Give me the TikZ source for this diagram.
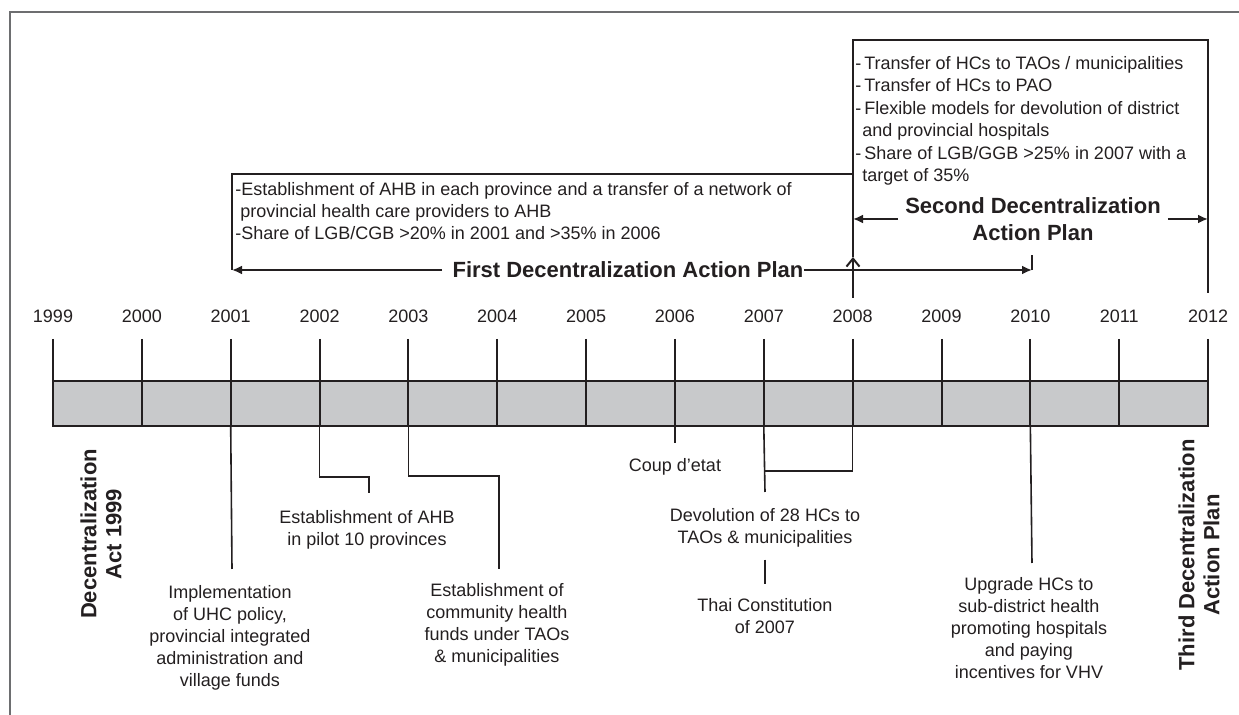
\documentclass[tikz,border=0pt]{standalone}
\usepackage{fontspec}
\setmainfont{Liberation Sans}
\usetikzlibrary{arrows.meta,calc,positioning}
\definecolor{ink}{HTML}{231F20}
\definecolor{bargray}{HTML}{C8C9CB}
\definecolor{framegray}{HTML}{6D6E70}

\begin{document}
\begin{tikzpicture}[
  x=0.5pt, y=-0.5pt,
  > = {Latex[length=5pt,width=4.5pt]},
  every node/.style={text=ink},
  yearlbl/.style={font=\fontsize{9}{11}\selectfont, inner sep=0},
  event/.style={font=\fontsize{9}{11}\selectfont, align=center, inner sep=0, anchor=north},
  note/.style={font=\fontsize{9}{11}\selectfont, align=left, inner sep=0, anchor=north west},
  plan/.style={font=\bfseries\fontsize{11}{13.5}\selectfont, align=center},
  sideplan/.style={font=\bfseries\fontsize{11}{12.5}\selectfont, align=center, rotate=90, inner sep=0},
  link/.style={draw=ink, line width=1pt},
  lead/.style={draw=ink, line width=0.8pt}
  ]
  \useasboundingbox (0,0) rectangle (1239,715);
  \draw[framegray, line width=0.75pt] (10,715) -- (10,12) -- (1239,12);

  % time bar
  \draw[link, fill=bargray] (53,381) rectangle (1208,426);
  \foreach \yr [count=\i from 0] in {1999,...,2012} {
    \coordinate (top\yr) at ({53+88.85*\i},339);
    \coordinate (bot\yr) at ({53+88.85*\i},426);
    \node[yearlbl] (y\yr) at ({53+88.85*\i},316) {\yr};
    \draw[link] (top\yr) -- (bot\yr);
  }

  % first plan
  \coordinate (fpL) at (232,270);
  \coordinate (fpR) at (1032,270);
  \coordinate (fpT) at (232,174);
  \coordinate (fpE) at (853,174);
  \node[plan, inner xsep=0] (fp) at (628,270) {First Decentralization Action Plan};
  \node[note] (fpnote) at (235,182) {-Establishment of AHB in each province and a transfer of a network of\\\hspace{2.5pt}provincial health care providers to AHB\\-Share of LGB/CGB >20\% in 2001 and >35\% in 2006};
  \draw[link, ->] ([xshift=-5pt]fp.west) -- (fpL);
  \draw[link, ->] (fp.east) -- (fpR);
  \draw[link] (fpL) -- (fpT) -- (fpE);
  \draw[link] (fpR) -- (1032,255);

  % second plan
  \coordinate (sbB) at (853,298);
  \coordinate (sbA) at (853,257);
  \coordinate (sbTL) at (853,40);
  \coordinate (sbTR) at (1208,40);
  \coordinate (sbR) at (1208,293);
  \draw[link, -{Straight Barb[length=4pt,width=6.5pt]}] (sbB) -- (sbA);
  \draw[link] (sbA) -- (sbTL) -- (sbTR) -- (sbR);
  \node[note, font=\fontsize{9}{11.2}\selectfont] (spnote) at (855,56) {-\,Transfer of HCs to TAOs / municipalities\\-\,Transfer of HCs to PAO\\-\,Flexible models for devolution of district\\\hspace{3.5pt}and provincial hospitals\\-\,Share of LGB/GGB >25\% in 2007 with a\\\hspace{3.5pt}target of 35\%};
  \node[plan] (sp) at (1033,219) {Second Decentralization\\Action Plan};
  \draw[link, ->] (sp.west) -- (sbTL |- sp.west);
  \draw[link, ->] (sp.east) -- (sbR |- sp.east);

  % rotated labels
  \node[sideplan] (act) at (101,534) {Decentralization\\Act 1999};
  \node[sideplan] (third) at (1199,555) {Third Decentralization\\Action Plan};

  % events below the bar
  \coordinate (e2001) at (232,569);
  \node[event] (impl) at (230,585) {Implementation\\of UHC policy,\\provincial integrated\\administration and\\village funds};
  \draw[lead] (bot2001) -- (e2001);

  \coordinate (k2002) at (369,477);
  \coordinate (e2002) at (369,493);
  \node[event] (pilot) at (367,510) {Establishment of AHB\\in pilot 10 provinces};
  \draw[lead] (bot2002) |- (k2002) -- (e2002);

  \coordinate (k2003) at (499,476);
  \coordinate (e2003) at (499,569);
  \node[event] (fund) at (497,583) {Establishment of\\community health\\funds under TAOs\\\& municipalities};
  \draw[lead] (bot2003) |- (k2003) -- (e2003);

  \coordinate (e2006) at (675,443);
  \node[event] (coup) at (675,458) {Coup d’etat};
  \draw[lead] (bot2006) -- (e2006);

  \coordinate (j2007) at (765,471);
  \coordinate (e2007) at (765,492);
  \node[event] (devol) at (765,508) {Devolution of 28 HCs to\\TAOs \& municipalities};
  \node[event] (thai) at (765,598) {Thai Constitution\\of 2007};
  \draw[lead] (bot2007) -- (e2007);
  \draw[lead] (bot2008) |- (j2007);
  \draw[lead, shorten <=6pt, shorten >=7pt] (devol.south) -- (thai.north);

  \coordinate (e2010) at (1032,563);
  \node[event] (upgr) at (1029,577) {Upgrade HCs to\\sub-district health\\promoting hospitals\\and paying\\incentives for VHV};
  \draw[lead] (bot2010) -- (e2010);
\end{tikzpicture}
\end{document}
